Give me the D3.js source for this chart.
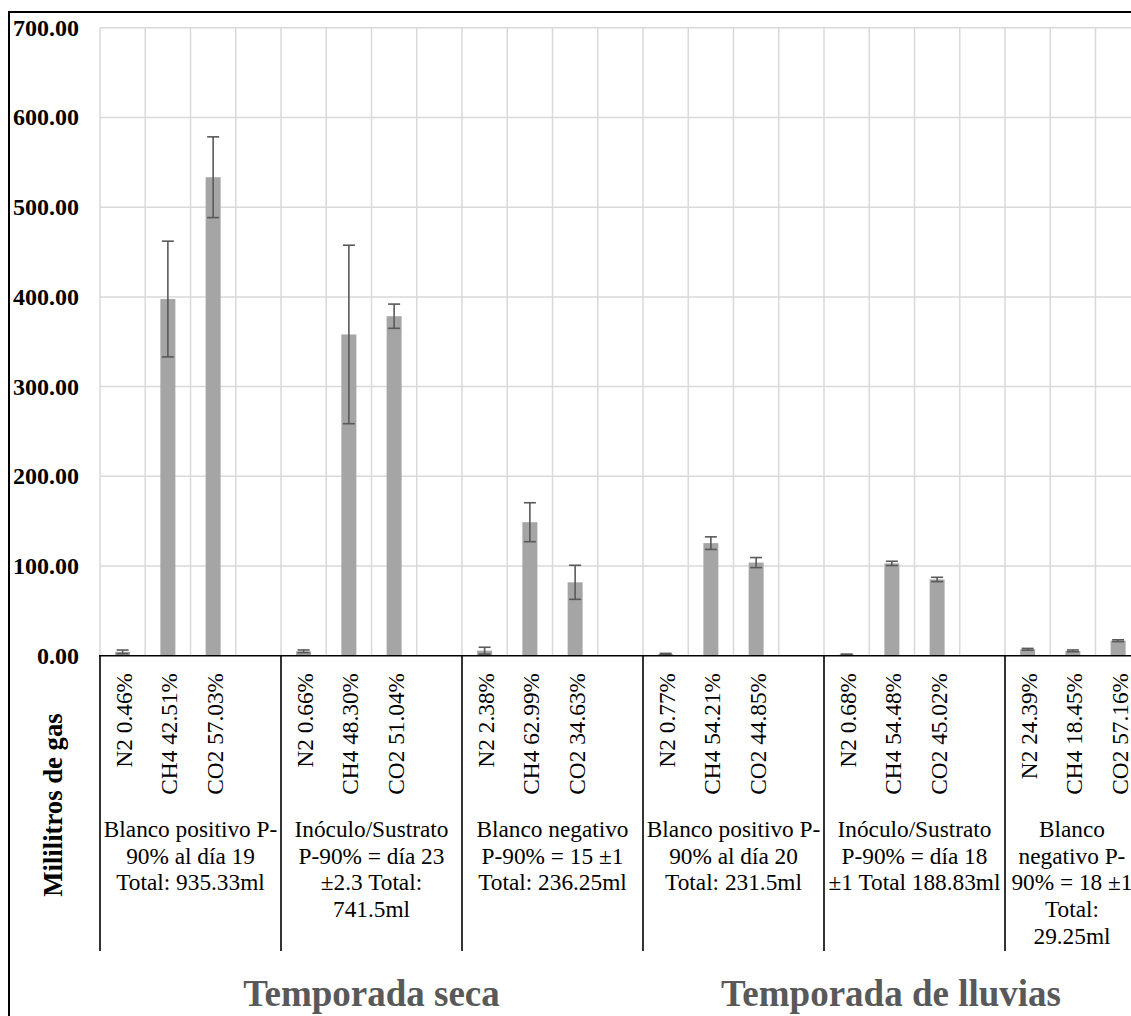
<!DOCTYPE html>
<html>
<head>
<meta charset="utf-8">
<script src="https://cdn.jsdelivr.net/npm/d3@7"></script>
<style>
  html, body { margin: 0; padding: 0; background: #fff; }
  svg { display: block; }
</style>
</head>
<body>
<svg id="chart" width="1131" height="1016"></svg>
<script>
// Gas volumes (ml) per treatment: N2, CH4, CO2
const groups = ["G1", "G2", "G3", "G4", "G5", "G6"];
const gases = ["N2", "CH4", "CO2"];
const volN2  = [4.30, 4.89, 5.62, 1.78, 1.28, 7.13];
const volCH4 = [397.61, 358.14, 148.81, 125.50, 102.87, 5.40];
const volCO2 = [533.42, 378.48, 81.81, 103.83, 85.01, 16.72];
const errN2  = [2.0, 1.5, 3.8, 0.8, 0.5, 1.0];
const errCH4 = [64.5, 99.5, 21.7, 7.0, 2.4, 1.0];
const errCO2 = [45.0, 13.5, 19.0, 5.6, 2.4, 1.0];
const pctN2  = ["0.46", "0.66", "2.38", "0.77", "0.68", "24.39"];
const pctCH4 = ["42.51", "48.30", "62.99", "54.21", "54.48", "18.45"];
const pctCO2 = ["57.03", "51.04", "34.63", "44.85", "45.02", "57.16"];
const groupLabels = [
  ["Blanco positivo P-", "90% al día 19", "Total: 935.33ml"],
  ["Inóculo/Sustrato", "P-90% = día 23", "±2.3 Total:", "741.5ml"],
  ["Blanco negativo", "P-90% = 15 ±1", "Total: 236.25ml"],
  ["Blanco positivo P-", "90% al día 20", "Total: 231.5ml"],
  ["Inóculo/Sustrato", "P-90% = día 18", "±1 Total 188.83ml"],
  ["Blanco", "negativo P-", "90% = 18 ±1", "Total:", "29.25ml"]
];
const seasons = ["Temporada seca", "Temporada de lluvias"];
const seasonGroups = [["G1", "G2", "G3"], ["G4", "G5", "G6"]];
const yTicks = [0, 100, 200, 300, 400, 500, 600, 700];
const yTitle = "Mililitros de gas";

// Build the flat record list used by the marks
const vols = [volN2, volCH4, volCO2];
const errs = [errN2, errCH4, errCO2];
const pcts = [pctN2, pctCH4, pctCO2];
const slots = [];
groups.forEach((g, gi) => {
  gases.forEach((gas, k) => {
    slots.push({ id: g + "-" + gas, group: g, gas, value: vols[k][gi], err: errs[k][gi], pct: pcts[k][gi] });
  });
  slots.push({ id: g + "-gap", group: g, gas: null });
});

const W = 1131, H = 1016;
const FONT = '"Liberation Serif", "Times New Roman", serif';
const plot = { left: 100, top: 27.8, bottom: 655.7, slotW: 45.25 };
const visibleRight = 1139;

const svg = d3.select("#chart");

const x = d3.scaleBand()
  .domain(slots.map(d => d.id))
  .range([plot.left, plot.left + slots.length * plot.slotW])
  .paddingInner(0).paddingOuter(0);
const xg = d3.scaleBand()
  .domain(groups)
  .range([plot.left, plot.left + slots.length * plot.slotW]);
const y = d3.scaleLinear().domain([0, 700]).range([plot.bottom, plot.top]);

// Serif text styling applied inline on each label
function serif(sel, size, weight = "normal", color = "#000") {
  return sel
    .style("font-family", FONT, "important")
    .style("font-size", size + "px", "important")
    .style("font-weight", weight, "important")
    .style("fill", color);
}

// Outer frame of the chart area
svg.append("path")
  .attr("d", `M${W + 5},12 L9,12 L9,${H + 5}`)
  .attr("fill", "none").attr("stroke", "#000").attr("stroke-width", 2);

// Horizontal gridlines
svg.append("g").selectAll("line").data(yTicks.filter(t => t > 0)).join("line")
  .attr("x1", plot.left).attr("x2", x.range()[1])
  .attr("y1", d => y(d)).attr("y2", d => y(d))
  .attr("stroke", "#D9D9D9").attr("stroke-width", 1.5);

// Vertical gridlines on every slot boundary
svg.append("g").selectAll("line").data(slots).join("line")
  .attr("x1", d => x(d.id)).attr("x2", d => x(d.id))
  .attr("y1", y(700)).attr("y2", y(0))
  .attr("stroke", "#D9D9D9").attr("stroke-width", 1.5);

// Bars
const barW = 15;
const bars = slots.filter(d => d.gas);
svg.append("g").selectAll("rect").data(bars).join("rect")
  .attr("x", d => x(d.id) + x.bandwidth() / 2 - barW / 2)
  .attr("width", barW)
  .attr("y", d => y(d.value))
  .attr("height", d => y(0) - y(d.value))
  .attr("fill", "#A5A5A5");

// Error bars
const eb = svg.append("g").attr("stroke", "#595959").attr("stroke-width", 1.6);
bars.forEach(d => {
  const cx = x(d.id) + x.bandwidth() / 2;
  const top = y(d.value + d.err), bot = y(Math.max(0, d.value - d.err));
  eb.append("line").attr("x1", cx).attr("x2", cx).attr("y1", top).attr("y2", bot);
  eb.append("line").attr("x1", cx - 6).attr("x2", cx + 6).attr("y1", top).attr("y2", top);
  eb.append("line").attr("x1", cx - 6).attr("x2", cx + 6).attr("y1", bot).attr("y2", bot);
});

// Category axis baseline and group separators
svg.append("line")
  .attr("x1", plot.left - 1).attr("x2", W + 5)
  .attr("y1", y(0)).attr("y2", y(0))
  .attr("stroke", "#000").attr("stroke-width", 1.6);
svg.append("g").selectAll("line").data(groups).join("line")
  .attr("x1", d => xg(d)).attr("x2", d => xg(d))
  .attr("y1", y(0)).attr("y2", 951)
  .attr("stroke", "#000").attr("stroke-width", 1.6);

// Y tick labels
serif(svg.append("g").selectAll("text").data(yTicks).join("text")
  .attr("x", 79).attr("y", d => y(d) + 7.9)
  .attr("text-anchor", "end")
  .text(d => d3.format(".2f")(d)), 24, "bold");

// Rotated gas labels under each bar
serif(svg.append("g").selectAll("text").data(bars).join("text")
  .attr("transform", d => `translate(${x(d.id) + x.bandwidth() / 2 + 9.5},673) rotate(-90)`)
  .attr("text-anchor", "end")
  .text(d => `${d.gas} ${d.pct}%`), 23.3);

// Group descriptions
const gCenter = g => (xg(g) + Math.min(xg(g) + xg.bandwidth(), visibleRight)) / 2;
const lines = [];
groups.forEach((g, gi) => groupLabels[gi].forEach((t, li) => lines.push({ g, li, t })));
serif(svg.append("g").selectAll("text").data(lines).join("text")
  .attr("x", d => gCenter(d.g))
  .attr("y", d => 837 + d.li * 26.7)
  .attr("text-anchor", "middle")
  .text(d => d.t), 23.3);

// Season labels
serif(svg.append("g").selectAll("text").data(seasons).join("text")
  .attr("x", (d, i) => {
    const gs = seasonGroups[i];
    const x0 = xg(gs[0]);
    const x1 = Math.min(xg(gs[gs.length - 1]) + xg.bandwidth(), visibleRight);
    return (x0 + x1) / 2;
  })
  .attr("y", 1006)
  .attr("text-anchor", "middle")
  .text(d => d), 37, "bold", "#595959");

// Y axis title
serif(svg.append("text")
  .attr("transform", "translate(62,805) rotate(-90)")
  .attr("text-anchor", "middle")
  .text(yTitle), 26.7, "bold");
</script>
</body>
</html>
